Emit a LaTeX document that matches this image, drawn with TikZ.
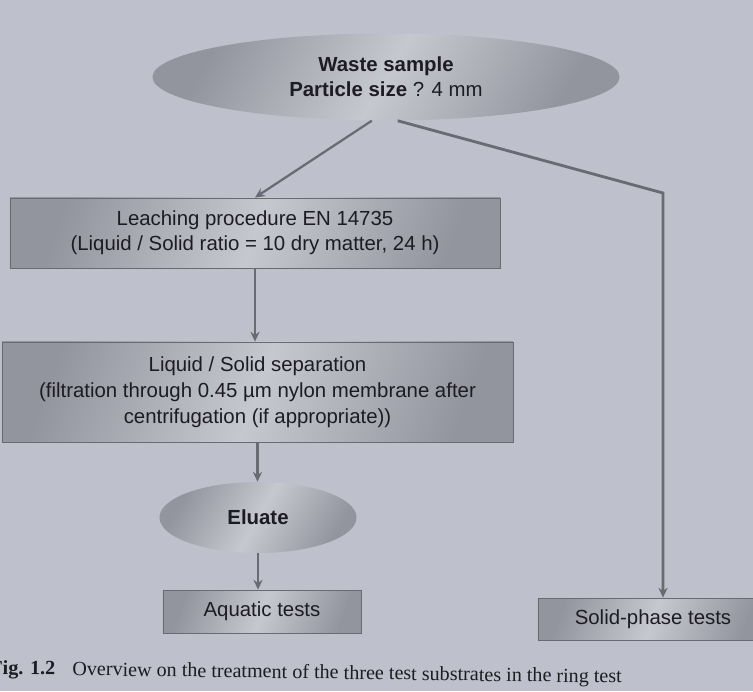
\documentclass[tikz,border=0pt]{standalone}
\usepackage{fontspec}
\setmainfont{Liberation Serif}
\setsansfont{Liberation Sans}
\usetikzlibrary{arrows.meta,positioning,shapes.geometric}

\definecolor{pagegray}{RGB}{190,193,203}
\definecolor{shadedark}{RGB}{146,149,158}
\definecolor{shadelight}{RGB}{198,200,207}
\definecolor{linegray}{RGB}{105,106,114}
\definecolor{inkgray}{RGB}{28,28,34}

\begin{document}
\begin{tikzpicture}[x=0.025cm,y=-0.025cm,
  txt/.style={font=\sffamily\fontsize{14.5pt}{17.5pt}\selectfont,text=inkgray,align=center},
  blob/.style={txt,ellipse,inner sep=0pt,top color=shadedark,bottom color=shadedark,
    middle color=shadelight,shading angle=60},
  stepbox/.style={txt,rectangle,inner sep=0pt,draw=linegray,line width=0.6pt,
    top color=shadedark,bottom color=shadedark,middle color=shadelight,shading angle=70},
  flow/.style={draw=linegray,line width=1.6pt,-{Stealth[length=7pt,width=6.5pt]}}]
  \useasboundingbox[fill=pagegray] (0,0) rectangle (753,691);
  % nodes
  \node[blob,minimum width=116.75mm,minimum height=21.75mm] (waste) at (386,77)
    {\textbf{Waste sample}\\\textbf{Particle size} ? 4 mm};
  \node[stepbox,minimum width=122.5mm,minimum height=17.5mm,text depth=3pt] (leach) at (255,233)
    {Leaching procedure EN 14735\\(Liquid / Solid ratio = 10 dry matter, 24 h)};
  \node[stepbox,minimum width=127.75mm,minimum height=25mm,
    font=\sffamily\fontsize{14.5pt}{18.5pt}\selectfont] (sep) at (257.5,392)
    {Liquid / Solid separation\\(filtration through 0.45 µm nylon membrane after\\centrifugation (if appropriate))};
  \node[blob,minimum width=49.25mm,minimum height=17.75mm] (eluate) at (258,517.5)
    {\textbf{Eluate}};
  \node[stepbox,minimum width=49.5mm,minimum height=10.75mm] (aquatic) at (262,611.5)
    {Aquatic tests};
  \node[stepbox,minimum width=57.5mm,minimum height=10.5mm] (solid) at (653,619)
    {Solid-phase tests};
  \coordinate (bend) at (663,193);
  % connectors
  \draw[flow] (waste.252) -- (leach.north);
  \draw[flow,line width=2pt] (waste.285) -- (bend) -- (bend |- solid.north);
  \draw[flow] (leach.south) -- (leach.south |- sep.north);
  \draw[flow] (sep.south) -- (sep.south |- eluate.north);
  \draw[flow] (eluate.south) -- (eluate.south |- aquatic.north);
  % caption
  \node[anchor=base east,inner sep=0pt,rotate=-0.8,text=inkgray,
    font=\rmfamily\fontsize{14.3pt}{17pt}\selectfont] (caption) at (622,683)
    {\textbf{Fig. 1.2}\hspace{0.6em} Overview on the treatment of the three test substrates in the ring test};
\end{tikzpicture}
\end{document}
